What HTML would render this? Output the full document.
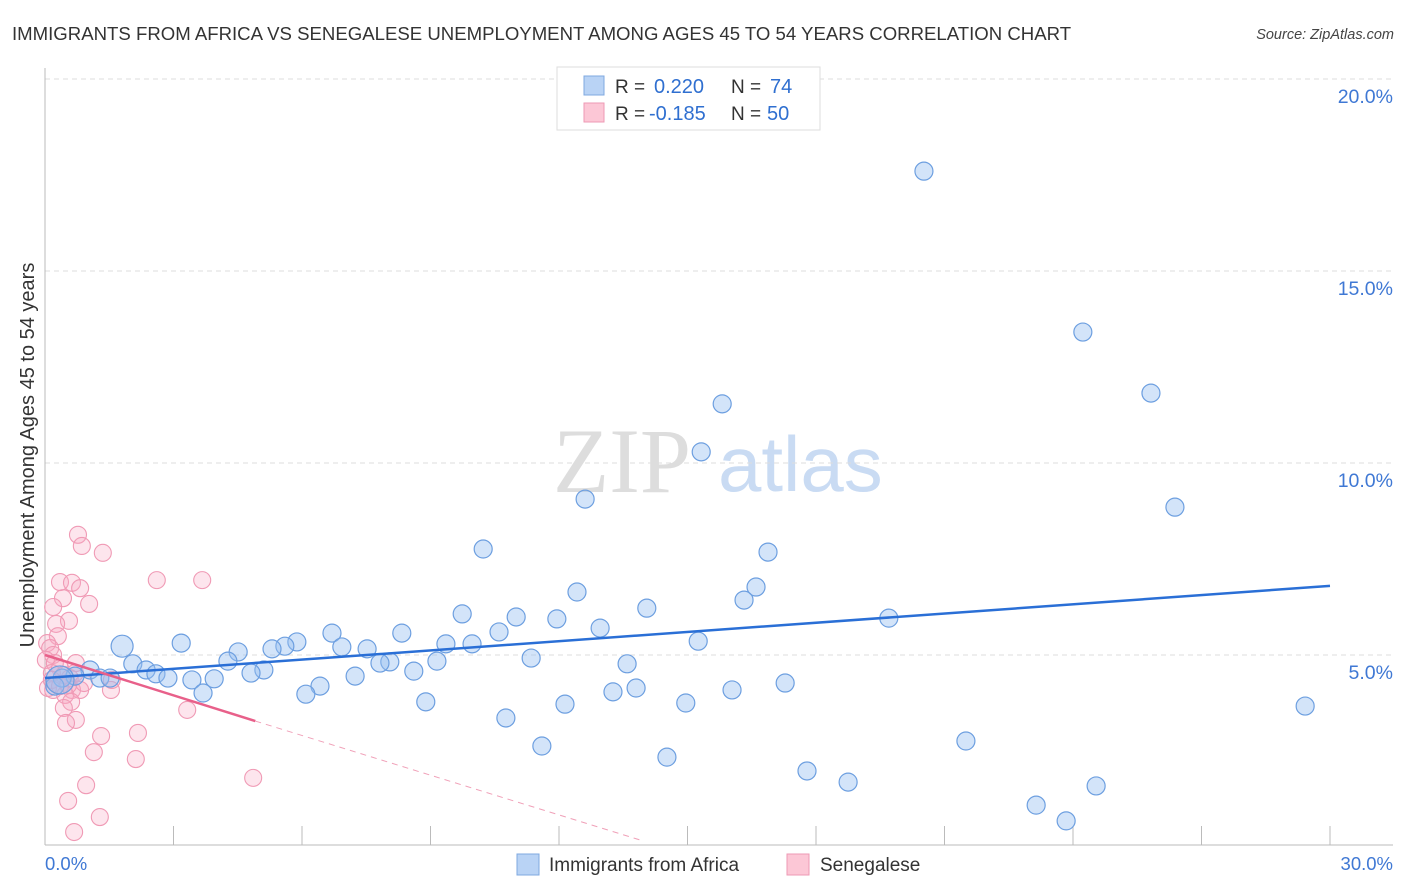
<!DOCTYPE html>
<html><head><meta charset="utf-8"><style>
body{margin:0;background:#fff;font-family:"Liberation Sans",sans-serif;}
svg{display:block}
</style></head><body>
<svg width="1406" height="892" xmlns="http://www.w3.org/2000/svg">
<text x="12" y="40" font-size="18.6" fill="#333">IMMIGRANTS FROM AFRICA VS SENEGALESE UNEMPLOYMENT AMONG AGES 45 TO 54 YEARS CORRELATION CHART</text>
<text x="1394" y="39" font-size="14.5" fill="#444" font-style="italic" text-anchor="end">Source: ZipAtlas.com</text>
<text x="34" y="455" font-size="20" fill="#333" text-anchor="middle" transform="rotate(-90 34 455)">Unemployment Among Ages 45 to 54 years</text>
<g>
<text x="553" y="492" font-family="Liberation Serif,serif" font-size="92" fill="#ddd">ZIP</text>
<text x="718" y="491" font-size="78" fill="#c9dbf3">atlas</text>
</g>
<g id="grid"></g>
<g id="axes"></g>
<g id="pinkpts"></g>
<g id="bluepts"></g>
<g id="trends"></g>
<g>
<rect x="557" y="67" width="263" height="63" fill="#fff" stroke="#ddd"/>
<rect x="584" y="76" width="20" height="19" fill="#b9d3f5" stroke="#7fa8e0"/>
<rect x="584" y="103" width="20" height="19" fill="#fcc7d6" stroke="#ee9ab4"/>
<text x="615" y="93" font-size="19" fill="#333">R = </text><text x="654" y="93" font-size="20" fill="#2f6fd0">0.220</text>
<text x="731" y="93" font-size="19" fill="#333">N = </text><text x="770" y="93" font-size="20" fill="#2f6fd0">74</text>
<text x="615" y="120" font-size="19" fill="#333">R = </text><text x="649" y="120" font-size="20" fill="#2f6fd0">-0.185</text>
<text x="731" y="120" font-size="19" fill="#333">N = </text><text x="767" y="120" font-size="20" fill="#2f6fd0">50</text>
</g>
<g>
<rect x="517" y="854" width="22" height="21" fill="#b9d3f5" stroke="#7fa8e0"/>
<text x="549" y="871" font-size="19" fill="#333">Immigrants from Africa</text>
<rect x="787" y="854" width="22" height="21" fill="#fcc7d6" stroke="#ee9ab4"/>
<text x="820" y="871" font-size="19" fill="#333">Senegalese</text>
</g>
</svg>
<script>
const yTicks=[5,10,15,20];
const yTickLabels=["5.0%","10.0%","15.0%","20.0%"];
const xTicks=[0,3,6,9,12,15,18,21,24,27,30];
const blueX=[20.52,24.23,25.82,15.81,15.32,12.61,26.38,10.23,16.88,16.60,12.42,16.32,14.05,9.74,11.00,19.70,11.95,12.96,6.70,8.33,5.88,3.18,1.80,5.60,6.93,7.52,9.36,9.97,4.51,10.60,5.30,11.35,15.25,9.15,8.05,7.82,13.59,4.27,2.05,2.36,2.59,5.11,4.81,8.61,7.24,2.87,3.43,3.95,17.28,1.05,0.70,0.40,1.28,1.52,0.23,6.42,6.09,3.69,13.80,13.26,16.04,8.89,12.14,14.96,29.42,10.76,21.50,11.60,14.52,17.79,18.75,24.54,23.14,23.84,0.35];
const blueY=[17.60,13.41,11.82,11.54,10.29,9.06,8.85,7.76,7.68,6.77,6.64,6.43,6.22,6.07,5.99,5.96,5.94,5.70,5.57,5.57,5.34,5.31,5.23,5.23,5.21,5.16,5.29,5.29,5.08,5.60,5.16,4.92,5.36,4.84,4.82,4.79,4.77,4.84,4.77,4.61,4.51,4.61,4.53,4.58,4.45,4.40,4.35,4.38,4.27,4.61,4.45,4.40,4.40,4.40,4.19,4.19,3.98,4.01,4.14,4.04,4.09,3.78,3.72,3.75,3.67,3.36,2.76,2.63,2.34,1.98,1.69,1.59,1.09,0.68,4.35];
const blueR=[9,9,9,9,9,9,9,9,9,9,9,9,9,9,9,9,9,9,9,9,9,9,11,9,9,9,9,9,9,9,9,9,9,9,9,9,9,9,9,9,9,9,9,9,9,9,9,9,9,9,9,9,9,9,9,9,9,9,9,9,9,9,9,9,9,9,9,9,9,9,9,9,9,9,14];
const pinkX=[0.77,0.86,1.35,2.61,3.67,0.35,0.63,0.82,0.42,1.03,0.19,0.56,0.26,0.30,0.05,0.12,0.19,0.02,0.23,0.35,0.72,0.58,0.70,0.16,0.44,0.19,0.63,1.54,0.82,0.47,0.61,3.32,0.44,0.72,0.49,2.17,1.31,1.14,2.12,4.86,0.96,0.54,1.28,0.68,0.07,0.16,0.35,0.54,0.91,1.56];
const pinkY=[8.13,7.84,7.66,6.95,6.95,6.90,6.88,6.74,6.48,6.33,6.25,5.89,5.81,5.49,5.31,5.18,5.00,4.87,4.79,4.66,4.79,4.40,4.53,4.53,4.48,4.09,4.09,4.09,4.09,3.96,3.78,3.57,3.62,3.31,3.23,2.97,2.89,2.47,2.29,1.80,1.61,1.20,0.78,0.39,4.14,4.35,4.19,4.22,4.27,4.35];
const blueTrendX=[0,30], blueTrendY=[4.40,6.80];
const pinkTrendX=[0,4.91], pinkTrendY=[5.00,3.28];
const pinkDashX=[4.91,13.9], pinkDashY=[3.28,0.18];

const NS="http://www.w3.org/2000/svg";
const sx=v=>45+v*1285/30;
const sy=v=>847-v*38.4;
function mk(tag,attrs,parent){const e=document.createElementNS(NS,tag);for(const k in attrs)e.setAttribute(k,attrs[k]);parent.appendChild(e);return e;}
const grid=document.getElementById('grid'),axes=document.getElementById('axes');
yTicks.forEach((t,i)=>{
 const l=mk('line',{x1:45,x2:1393,y1:sy(t),y2:sy(t),stroke:'#ddd','stroke-dasharray':'5,4'},grid);
 
 
 const tx=mk('text',{x:1393,y:sy(t)+24,'font-size':19.5,fill:'#3f78d4','text-anchor':'end'},axes);
 tx.textContent=yTickLabels[i];
 
 
});
const ya=mk('line',{x1:45,x2:45,y1:68,y2:845,stroke:'#bbb'},axes);


const xa=mk('line',{x1:45,x2:1393,y1:845,y2:845,stroke:'#bbb'},axes);


xTicks.forEach(t=>{
 const l=mk('line',{x1:sx(t),x2:sx(t),y1:826,y2:845,stroke:'#bbb'},axes);
 
 
});
const x0=mk('text',{x:45,y:870,'font-size':18.5,fill:'#3f78d4'},axes);x0.textContent='0.0%';


const x1=mk('text',{x:1393,y:870,'font-size':18.5,fill:'#3f78d4','text-anchor':'end'},axes);x1.textContent='30.0%';


const pg=document.getElementById('pinkpts');
pinkX.forEach((v,i)=>{
 const c=mk('circle',{cx:sx(v),cy:sy(pinkY[i]),r:8.5,fill:'rgba(247,170,195,0.3)',stroke:'#f09ab5','stroke-width':1.1},pg);
 
 
});
const bg=document.getElementById('bluepts');
blueX.forEach((v,i)=>{
 const c=mk('circle',{cx:sx(v),cy:sy(blueY[i]),r:blueR[i],fill:'rgba(150,190,240,0.42)',stroke:'#6d9fe0','stroke-width':1.2},bg);
 
 
});
const tg=document.getElementById('trends');
const bt=mk('line',{x1:sx(blueTrendX[0]),y1:sy(blueTrendY[0]),x2:sx(blueTrendX[1]),y2:sy(blueTrendY[1]),stroke:'#2a6fd6','stroke-width':2.5},tg);


const pt=mk('line',{x1:sx(pinkTrendX[0]),y1:sy(pinkTrendY[0]),x2:sx(pinkTrendX[1]),y2:sy(pinkTrendY[1]),stroke:'#e8608a','stroke-width':2.5},tg);


const pd=mk('line',{x1:sx(pinkDashX[0]),y1:sy(pinkDashY[0]),x2:sx(pinkDashX[1]),y2:sy(pinkDashY[1]),stroke:'#f0a0b8','stroke-width':1,'stroke-dasharray':'6,5'},tg);


</script>
</body></html>
